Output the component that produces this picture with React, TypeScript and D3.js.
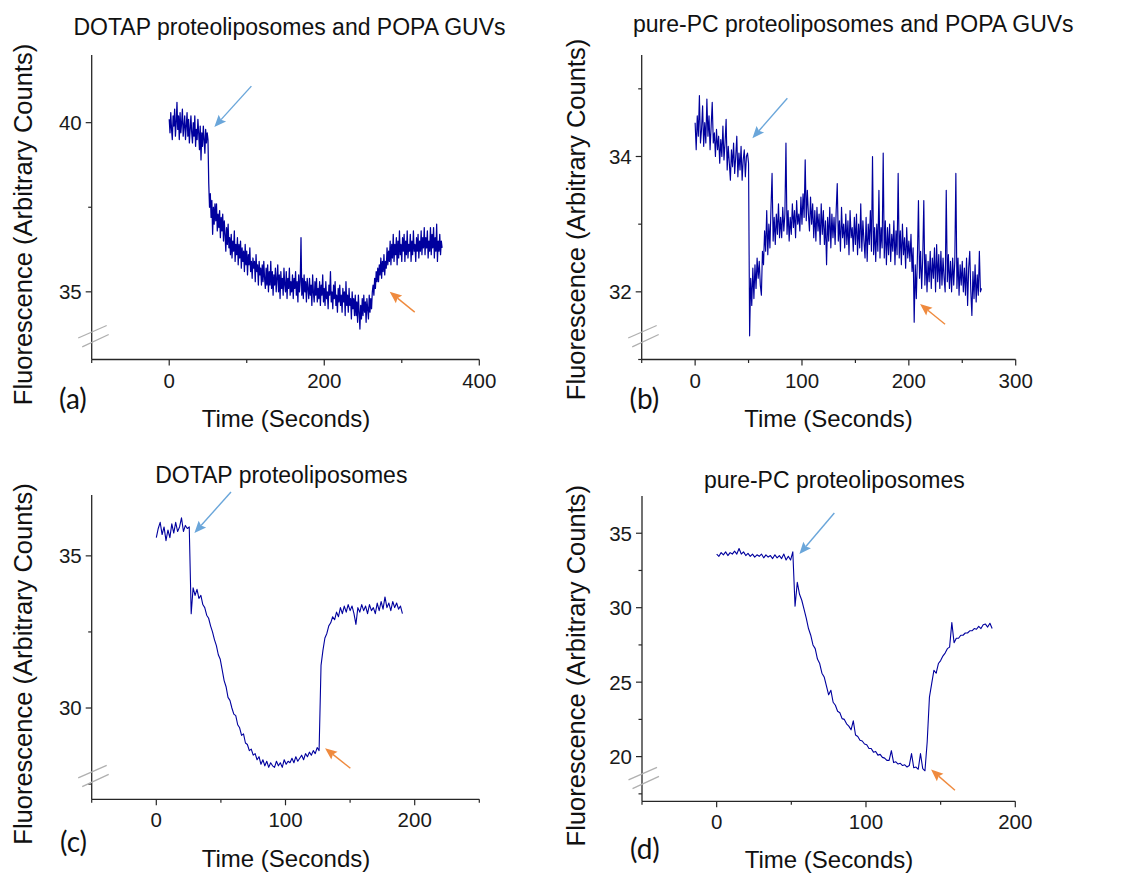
import React from 'react';
import * as d3 from 'd3';

// ---------- titles & labels ----------
const panelTitles = [
  'DOTAP proteoliposomes and POPA GUVs',
  'pure-PC proteoliposomes and POPA GUVs',
  'DOTAP proteoliposomes',
  'pure-PC proteoliposomes',
];
const panelLetters = ['(a)', '(b)', '(c)', '(d)'];
const xAxisLabel = 'Time (Seconds)';
const yAxisLabel = 'Fluorescence (Arbitrary Counts)';

// ---------- data (fluorescence, sampled every step seconds from start) ----------
const aStart = 0, aStep = 1;
const aValues = [
  40.1, 39.7, 40.3, 39.8, 39.5, 40.2, 39.9, 40.4, 39.6, 40.0,
  40.6, 39.8, 40.2, 39.5, 40.3, 39.7, 40.0, 40.4, 39.6, 39.9,
  40.2, 39.5, 39.9, 40.3, 39.6, 40.1, 39.4, 39.8, 40.2, 39.7,
  39.4, 40.0, 39.6, 40.2, 39.3, 39.8, 39.5, 40.1, 39.7, 39.2,
  39.9, 38.9, 39.7, 39.3, 39.9, 39.5, 39.1, 39.8, 39.4, 39.7,
  39.5, 38.2, 37.5, 37.9, 37.2, 37.7, 36.7, 37.5, 37.0, 37.6,
  37.1, 37.6, 36.8, 37.3, 36.9, 37.4, 36.6, 37.2, 36.8, 37.3,
  36.5, 37.1, 36.7, 36.2, 36.9, 36.4, 37.0, 36.3, 36.6, 36.1,
  36.7, 36.0, 36.5, 36.2, 36.8, 35.9, 36.4, 36.1, 36.6, 35.8,
  36.4, 36.0, 36.5, 35.7, 36.3, 35.9, 36.2, 35.6, 36.4, 35.8,
  36.2, 35.5, 36.1, 35.8, 36.3, 35.6, 35.9, 35.4, 36.0, 35.7,
  35.9, 35.3, 36.1, 35.6, 35.8, 35.2, 35.9, 35.5, 35.7, 35.2,
  35.8, 35.3, 35.9, 35.4, 35.1, 35.7, 35.2, 35.8, 35.0, 35.6,
  35.2, 35.9, 35.1, 35.6, 34.9, 35.5, 35.2, 35.7, 35.0, 35.4,
  35.8, 35.0, 35.5, 34.8, 35.6, 35.1, 35.4, 34.9, 35.7, 35.2,
  35.0, 35.6, 34.8, 35.4, 35.1, 35.7, 34.9, 35.3, 35.0, 35.5,
  34.8, 35.4, 35.1, 35.6, 34.9, 35.3, 34.7, 35.5, 35.0, 35.3,
  36.6, 34.9, 35.4, 34.8, 35.5, 35.0, 35.3, 34.7, 35.4, 35.1,
  34.8, 35.4, 34.9, 35.2, 34.6, 35.5, 35.0, 34.7, 35.3, 34.9,
  35.4, 34.7, 35.1, 34.8, 35.3, 34.6, 35.2, 34.9, 35.5, 34.7,
  35.1, 34.6, 35.3, 34.8, 35.0, 34.5, 35.2, 34.9, 35.6, 34.7,
  35.0, 34.5, 35.2, 34.8, 35.3, 34.6, 34.9, 34.4, 35.1, 34.7,
  35.2, 34.6, 34.9, 34.4, 35.1, 34.7, 35.0, 34.3, 35.3, 34.6,
  34.9, 34.4, 35.1, 34.6, 34.8, 34.2, 35.0, 34.5, 34.8, 34.3,
  34.9, 34.3, 34.7, 34.1, 34.9, 34.4, 33.9, 34.6, 34.2, 34.8,
  34.3, 34.9, 34.4, 34.7, 34.1, 34.8, 34.5, 34.2, 34.9, 34.4,
  34.8, 34.5, 35.0, 35.2, 34.9, 35.4, 35.1, 35.6, 35.3, 35.7,
  35.3, 35.8, 35.5, 36.0, 35.4, 35.9, 35.6, 36.1, 35.5, 35.9,
  35.7, 36.3, 35.8, 36.2, 35.9, 36.5, 35.8, 36.4, 36.0, 36.7,
  35.9, 36.4, 36.1, 36.6, 35.8, 36.5, 36.0, 36.8, 36.1, 36.4,
  35.9, 36.6, 36.2, 36.7, 35.9, 36.5, 36.1, 36.8, 36.0, 36.4,
  36.2, 36.7, 35.9, 36.5, 36.1, 36.8, 36.2, 36.4, 35.9, 36.6,
  36.2, 36.7, 36.0, 36.5, 36.2, 36.8, 36.1, 36.6, 36.3, 36.9,
  36.1, 36.6, 36.3, 36.8, 36.0, 36.5, 36.2, 36.9, 36.1, 36.7,
  36.3, 36.9, 36.0, 36.6, 36.2, 37.0, 35.9, 36.5, 36.2, 36.7,
  36.1, 36.5, 36.3,
];

const bStart = 0, bStep = 1;
const bValues = [
  34.5, 34.1, 34.6, 34.3, 34.9, 34.2, 34.4, 34.75, 34.15, 34.5,
  34.2, 34.85, 34.3, 34.6, 34.1, 34.45, 34.8, 34.2, 34.35, 34.0,
  34.4, 34.1, 34.3, 33.9, 34.25, 34.0, 34.45, 33.95, 34.2, 34.55,
  33.8, 34.15, 33.9, 33.65, 34.1, 33.85, 34.2, 33.75, 34.0, 34.3,
  33.7, 34.05, 33.8, 34.15, 33.65, 33.95, 34.1, 33.7, 34.0, 34.05,
  33.9, 31.35, 32.2, 31.8, 32.35, 31.9, 32.4, 32.05, 32.5, 32.2,
  32.45, 32.1, 31.95, 32.6, 32.4, 32.9, 32.6, 33.2, 32.55, 33.0,
  32.65, 33.25, 33.75, 32.75, 33.1, 32.7, 33.15, 32.85, 33.3, 32.8,
  33.1, 32.8, 33.25, 32.9, 33.15, 34.2, 32.85, 33.2, 32.75, 33.1,
  32.85, 33.3, 32.95, 33.2, 32.8, 33.35, 33.0, 33.15, 32.9, 33.4,
  33.0, 33.45, 33.1, 33.95, 33.05, 33.5, 33.15, 32.9, 33.4, 33.0,
  33.3, 32.8, 33.2, 32.75, 33.25, 32.9, 33.15, 32.7, 33.3, 32.85,
  33.2, 32.7, 33.05, 32.4, 33.1, 32.75, 33.25, 32.65, 33.15, 32.8,
  33.1, 32.7, 33.2, 33.6, 32.75, 33.05, 32.6, 33.25, 32.8, 33.0,
  32.65, 33.15, 32.7, 33.05, 32.55, 33.2, 32.8, 32.95, 32.6, 33.1,
  32.7, 33.15, 32.55, 33.0, 32.65, 33.3, 32.6, 33.05, 32.75, 32.5,
  33.1, 32.45, 33.0, 32.7, 33.2, 32.6, 34.0, 32.55, 32.95, 32.45,
  33.0, 32.6, 33.5, 32.5, 32.95, 32.65, 34.05, 32.5, 33.05, 32.4,
  32.95, 32.55, 33.0, 32.45, 32.85, 32.6, 33.05, 32.4, 32.9, 32.55,
  33.75, 32.5, 32.9, 32.4, 33.0, 32.55, 32.8, 32.35, 32.95, 32.5,
  32.75, 32.45, 32.85, 32.3, 32.65, 31.55, 32.4, 31.9, 32.5, 33.35,
  32.2, 32.6, 32.05, 32.5, 33.35, 32.1, 32.55, 32.0, 32.45, 32.15,
  32.6, 32.05, 32.5, 32.2, 32.65, 32.0, 32.7, 32.15, 32.55, 32.05,
  32.6, 32.1, 32.5, 32.2, 32.0, 33.5, 32.15, 32.55, 32.05, 32.45,
  32.0, 32.5, 32.1, 32.45, 33.75, 32.05, 32.5, 31.95, 32.4, 32.1,
  32.45, 32.0, 32.35, 31.95, 32.5, 31.8, 32.35, 32.6, 32.0, 31.65,
  32.3, 31.9, 32.4, 31.85, 32.25, 31.95, 32.6, 32.0, 32.05,
];

const cStart = 0, cStep = 1.5;
const cValues = [
  35.6, 35.9, 36.1, 35.7, 35.95, 35.5, 35.85, 35.6, 36.05, 35.75,
  36.1, 35.8, 35.95, 36.25, 35.8, 36.0, 35.9, 35.95, 33.1, 33.95,
  33.7, 33.9, 33.6, 33.7, 33.4, 33.3, 33.05, 32.95, 32.7, 32.5,
  32.25, 32.05, 31.75, 31.6, 31.25, 30.9, 30.7, 30.35, 30.25, 30.0,
  29.8, 29.75, 29.45, 29.35, 29.1, 29.15, 28.85, 28.8, 28.6, 28.65,
  28.45, 28.5, 28.3, 28.4, 28.15, 28.3, 28.1, 28.25, 28.05, 28.2,
  28.1, 28.05, 28.25, 28.1, 28.2, 28.05, 28.3, 28.15, 28.25, 28.2,
  28.35, 28.2, 28.4, 28.25, 28.35, 28.45, 28.3, 28.5, 28.4, 28.55,
  28.45, 28.6, 28.5, 28.7, 28.6, 31.4, 31.9, 32.3, 32.45, 32.7,
  32.8, 33.0, 32.9, 33.15, 33.0, 33.3, 33.1, 33.35, 33.15, 33.4,
  33.2, 33.35, 33.1, 32.75, 33.3, 33.15, 33.4, 33.2, 33.35, 33.1,
  33.4, 33.2, 33.3, 33.1, 33.45, 33.2, 33.5, 33.25, 33.65, 33.3,
  33.45, 33.2, 33.5, 33.3, 33.45, 33.25, 33.35, 33.1,
];

const dStart = 0, dStep = 1.5;
const dValues = [
  33.6, 33.45, 33.7, 33.55, 33.75, 33.5, 33.7, 33.6, 33.8, 33.6,
  33.97, 33.6, 33.75, 33.5, 33.65, 33.45, 33.6, 33.4, 33.55, 33.45,
  33.6, 33.35, 33.55, 33.4, 33.5, 33.3, 33.55, 33.35, 33.5, 33.3,
  33.6, 33.2, 33.45, 33.2, 33.75, 30.1, 31.7, 30.9, 30.5, 29.9,
  29.3, 28.6, 28.15, 27.5, 27.25, 26.55, 26.25, 25.6, 25.35, 24.75,
  24.15, 24.45, 23.65, 23.45, 23.05, 22.95, 22.55, 22.5, 22.2, 22.05,
  21.8, 22.4, 21.45, 21.35, 21.1, 21.05, 20.85, 20.8, 20.55, 20.55,
  20.3, 20.35, 20.1, 20.15, 19.95, 19.9, 19.75, 19.75, 20.4, 19.6,
  19.65, 19.5, 19.55, 19.4, 19.45, 19.3, 19.4, 20.2, 19.25, 19.3,
  19.15, 20.2, 19.2, 19.05, 21.0, 24.0, 24.9, 25.8, 25.6, 26.25,
  26.45, 26.75, 26.95, 27.25, 27.35, 29.0, 27.65, 27.95, 27.95, 28.15,
  28.15, 28.3, 28.3, 28.45, 28.45, 28.6, 28.55, 28.75, 28.6, 28.85,
  28.9, 28.7, 28.95, 28.6,
];

// ---------- axes ----------
const aXMajor = [0, 200, 400], aXMinor = [-100, 100, 300];
const aYMajor = [35, 40], aYMinor = [37.5];
const bXMajor = [0, 100, 200, 300], bXMinor = [-50, 50, 150, 250];
const bYMajor = [32, 34], bYMinor = [31, 33, 35];
const cXMajor = [0, 100, 200], cXMinor = [-50, 50, 150, 250];
const cYMajor = [30, 35], cYMinor = [27.5, 32.5];
const dXMajor = [0, 100, 200], dXMinor = [-50, 50, 150];
const dYMajor = [20, 25, 30, 35], dYMinor = [17.5, 22.5, 27.5, 32.5];

// ---------- annotation arrows (data coords: tail x,y -> tip x,y) ----------
const aBlueArrow = [106, 41.08, 58.2, 39.87];
const aOrangeArrow = [316.7, 34.4, 284.4, 35.0];
const bBlueArrow = [86.3, 34.86, 53.6, 34.27];
const bOrangeArrow = [233.9, 31.52, 210.5, 31.82];
const cBlueArrow = [57.8, 37.1, 29.5, 35.75];
const cOrangeArrow = [150.2, 28.02, 130.6, 28.68];
const dBlueArrow = [78.8, 36.36, 55.4, 33.6];
const dOrangeArrow = [159.6, 17.74, 143.6, 19.13];

const FONT = '"Liberation Sans", Arial, sans-serif';
const LINE_COLOR = '#00009e';
const AXIS_COLOR = '#262626';
const BLUE = '#6aa6da';
const ORANGE = '#ef8a3e';

const panels = [
  {
    title: panelTitles[0], letter: panelLetters[0], values: aValues, t0: aStart, dt: aStep, lw: 1.25,
    xDomain: [-100, 400], yDomain: [33, 42], xMajor: aXMajor, xMinor: aXMinor, yMajor: aYMajor, yMinor: aYMinor,
    box: { left: 91.7, right: 479.3, top: 55, bottom: 359.5 },
    titleX: 289.5, titleY: 35, letterX: 59, letterY: 409, xLabelX: 286, xLabelY: 426.5, yLabelX: 31.5, yLabelY: 224.5,
    arrows: [[aBlueArrow, BLUE], [aOrangeArrow, ORANGE]],
  },
  {
    title: panelTitles[1], letter: panelLetters[1], values: bValues, t0: bStart, dt: bStep, lw: 1.15,
    xDomain: [-50, 300], yDomain: [31, 35.5], xMajor: bXMajor, xMinor: bXMinor, yMajor: bYMajor, yMinor: bYMinor,
    box: { left: 641.7, right: 1015.7, top: 55, bottom: 359.5 },
    titleX: 853.3, titleY: 32.3, letterX: 629.5, letterY: 409, xLabelX: 828.5, xLabelY: 426.5, yLabelX: 585, yLabelY: 219.5,
    arrows: [[bBlueArrow, BLUE], [bOrangeArrow, ORANGE]],
  },
  {
    title: panelTitles[2], letter: panelLetters[2], values: cValues, t0: cStart, dt: cStep, lw: 1.1,
    xDomain: [-50, 250], yDomain: [27, 37], xMajor: cXMajor, xMinor: cXMinor, yMajor: cYMajor, yMinor: cYMinor,
    box: { left: 91.7, right: 479.3, top: 495, bottom: 799.3 },
    titleX: 281.3, titleY: 483.3, letterX: 60, letterY: 852, xLabelX: 286, xLabelY: 866.5, yLabelX: 31.5, yLabelY: 664,
    arrows: [[cBlueArrow, BLUE], [cOrangeArrow, ORANGE]],
  },
  {
    title: panelTitles[3], letter: panelLetters[3], values: dValues, t0: dStart, dt: dStep, lw: 1.1,
    xDomain: [-50, 200], yDomain: [17, 37.5], xMajor: dXMajor, xMinor: dXMinor, yMajor: dYMajor, yMinor: dYMinor,
    box: { left: 642, right: 1015.3, top: 496, bottom: 801.3 },
    titleX: 834.3, titleY: 488.3, letterX: 630, letterY: 859, xLabelX: 829, xLabelY: 868.3, yLabelX: 585, yLabelY: 665.7,
    arrows: [[dBlueArrow, BLUE], [dOrangeArrow, ORANGE]],
  },
];

function Arrow({ x, y, spec, color }: any) {
  const [tx, ty, hx, hy] = spec;
  const x1 = x(tx), y1 = y(ty), x2 = x(hx), y2 = y(hy);
  const dx = x2 - x1, dy = y2 - y1;
  const len = Math.sqrt(dx * dx + dy * dy);
  const ux = dx / len, uy = dy / len;
  const headLen = 12, headW = 5;
  const bx = x2 - ux * headLen, by = y2 - uy * headLen;
  const px = -uy, py = ux;
  const pts = [
    [x2, y2],
    [bx + px * headW, by + py * headW],
    [bx + ux * 2, by + uy * 2],
    [bx - px * headW, by - py * headW],
  ];
  return (
    <g>
      <line x1={x1} y1={y1} x2={bx + ux * 2} y2={by + uy * 2} stroke={color} strokeWidth={1.4} />
      <polygon points={pts.map((p) => p.join(',')).join(' ')} fill={color} />
    </g>
  );
}

function Panel({ p }: any) {
  const { box } = p;
  const x = d3.scaleLinear().domain(p.xDomain).range([box.left, box.right]);
  const y = d3.scaleLinear().domain(p.yDomain).range([box.bottom, box.top]);
  const pts: [number, number][] = p.values.map((v: number, i: number) => [p.t0 + i * p.dt, v]);
  const path = d3.line<[number, number]>().x((d) => x(d[0])).y((d) => y(d[1]))(pts) || '';
  const L = box.left, B = box.bottom;
  return (
    <g>
      <text x={p.titleX} y={p.titleY} textAnchor="middle" fontFamily={FONT} fontSize={23} fill="#111">{p.title}</text>
      {/* data */}
      <path d={path} fill="none" stroke={LINE_COLOR} strokeWidth={p.lw} strokeLinejoin="round" />
      {/* axes */}
      <line x1={L} y1={box.top} x2={L} y2={B} stroke={AXIS_COLOR} strokeWidth={1.3} />
      <line x1={L} y1={B} x2={box.right} y2={B} stroke={AXIS_COLOR} strokeWidth={1.3} />
      {p.xMajor.map((v: number) => (
        <g key={'xM' + v}>
          <line x1={x(v)} y1={B} x2={x(v)} y2={B + 6} stroke={AXIS_COLOR} strokeWidth={1.2} />
          <text x={x(v)} y={B + 28} textAnchor="middle" fontFamily={FONT} fontSize={20.5} fill="#1a1a1a">{v}</text>
        </g>
      ))}
      {p.xMinor.map((v: number) => (
        <line key={'xm' + v} x1={x(v)} y1={B} x2={x(v)} y2={B + 3.5} stroke={AXIS_COLOR} strokeWidth={1.2} />
      ))}
      {p.yMajor.map((v: number) => (
        <g key={'yM' + v}>
          <line x1={L - 6} y1={y(v)} x2={L} y2={y(v)} stroke={AXIS_COLOR} strokeWidth={1.2} />
          <text x={L - 10} y={y(v)} dy="0.36em" textAnchor="end" fontFamily={FONT} fontSize={20.5} fill="#1a1a1a">{v}</text>
        </g>
      ))}
      {p.yMinor.map((v: number) => (
        <line key={'ym' + v} x1={L - 3.5} y1={y(v)} x2={L} y2={y(v)} stroke={AXIS_COLOR} strokeWidth={1.2} />
      ))}
      {/* axis break marks */}
      <line x1={L - 13.5} y1={B - 21.5} x2={L + 15} y2={B - 34} stroke="#b0b0b0" strokeWidth={1.3} />
      <line x1={L - 9.5} y1={B - 12.7} x2={L + 17} y2={B - 25} stroke="#b0b0b0" strokeWidth={1.3} />
      {/* arrows */}
      {p.arrows.map((a: any, i: number) => (
        <Arrow key={i} x={x} y={y} spec={a[0]} color={a[1]} />
      ))}
      {/* labels */}
      <text x={p.xLabelX} y={p.xLabelY} textAnchor="middle" fontFamily={FONT} fontSize={24} fill="#111">{xAxisLabel}</text>
      <text transform={`translate(${p.yLabelX},${p.yLabelY}) rotate(-90)`} textAnchor="middle" fontFamily={FONT} fontSize={25.5} fill="#111">{yAxisLabel}</text>
      <text x={p.letterX} y={p.letterY} fontFamily="Lato, 'Open Sans', sans-serif" fontSize={28} fill="#111">{p.letter}</text>
    </g>
  );
}

export default function App() {
  return (
    <svg width={1142} height={873} viewBox="0 0 1142 873" style={{ position: 'absolute', left: 0, top: 0, background: '#fff' }}>
      <rect x={0} y={0} width={1142} height={873} fill="#fff" />
      {panels.map((p, i) => (
        <Panel key={i} p={p} />
      ))}
    </svg>
  );
}
